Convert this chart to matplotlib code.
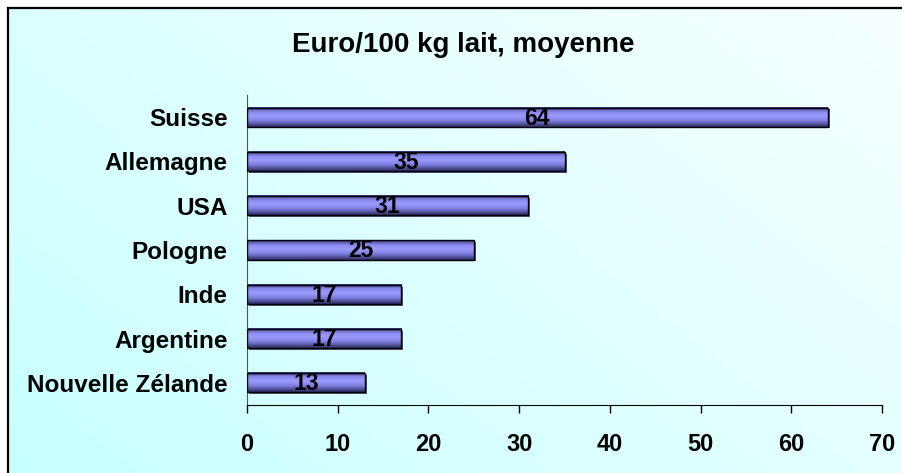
import numpy as np
import matplotlib
matplotlib.use("Agg")
import matplotlib.pyplot as plt
from matplotlib.colors import LinearSegmentedColormap

categories = ["Nouvelle Zélande", "Argentine", "Inde", "Pologne", "USA", "Allemagne", "Suisse"]
values = [13, 17, 17, 25, 31, 35, 64]
xticks = [0, 10, 20, 30, 40, 50, 60, 70]
title = "Euro/100 kg lait, moyenne"

plt.rcParams['font.family'] = ['Liberation Sans', 'DejaVu Sans']

W, H = 903, 473
fig = plt.figure(figsize=(W / 100, H / 100), dpi=100)
fig.patch.set_facecolor('white')

# background gradient panel
bg = fig.add_axes([8 / W, 0, 1 - 8 / W, 1 - 8 / H])
bg.set_axis_off()
yy, xx = np.mgrid[0:1:200j, 0:1:200j]
t = (xx * 0.6 + (1 - yy) * 0.4)
bgcmap = LinearSegmentedColormap.from_list("bg", ["#c8ffff", "#f7ffff"])
bg.imshow(t, cmap=bgcmap, aspect='auto', extent=[0, 1, 0, 1], origin='upper')
bg.set_xlim(0, 1); bg.set_ylim(0, 1)
fig.add_artist(plt.Line2D([8 / W, 8 / W], [0, 1 - 8 / H], color='black', lw=1.6, transform=fig.transFigure))
fig.add_artist(plt.Line2D([8 / W, 1], [1 - 8 / H, 1 - 8 / H], color='black', lw=1.6, transform=fig.transFigure))

ax = fig.add_axes([247 / W, 1 - 405 / H, (882 - 247) / W, (405 - 95) / H])
ax.patch.set_alpha(0)

barcmap = LinearSegmentedColormap.from_list(
    "bar", [(0, "#383878"), (0.25, "#8c8cf0"), (0.45, "#9c9cff"), (0.7, "#7c7cdc"), (1.0, "#2c2c60")])
grad = np.linspace(0, 1, 64).reshape(-1, 1)
h = 0.43
y = np.arange(len(categories))
for yi, v in zip(y, values):
    ax.add_patch(plt.Rectangle((0.25, yi - h / 2 - 0.04), v, h, facecolor='#555577', edgecolor='none', zorder=1))
    ax.imshow(grad, cmap=barcmap, aspect='auto', extent=[0, v, yi - h / 2, yi + h / 2],
              origin='upper', zorder=2)
bars = ax.barh(y, values, height=h, facecolor='none', edgecolor='black', linewidth=1.0, zorder=3)
for yi, v in zip(y, values):
    ax.text(v / 2, yi - 0.02, str(v), ha='center', va='center', fontsize=16.5, fontweight='bold', zorder=4)

ax.set_xlim(0, 70)
ax.set_ylim(-0.5, len(categories) - 0.5)
ax.set_xticks(xticks)
ax.set_xticklabels([str(v) for v in xticks], fontsize=17, fontweight='bold')
ax.set_yticks(y)
ax.set_yticklabels(categories, fontsize=17.5, fontweight='bold')
ax.tick_params(axis='x', length=6, width=1, direction='out', pad=14, color='black')
ax.tick_params(axis='y', length=0, pad=14)
for s in ['top', 'right']:
    ax.spines[s].set_visible(False)
ax.spines['left'].set_color('#555555')
ax.spines['bottom'].set_color('black')

fig.text(463 / W, 1 - 45 / H, title, ha='center', va='center', fontsize=20, fontweight='bold')

fig.savefig("out.png", dpi=100)
